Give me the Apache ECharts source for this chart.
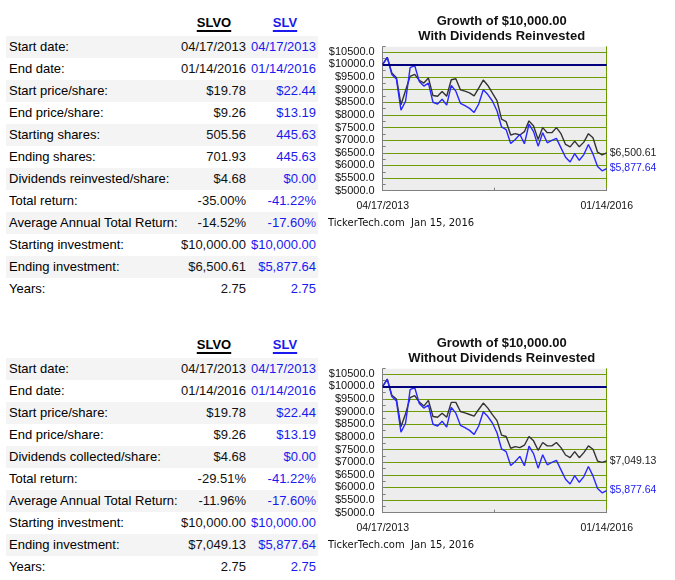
<!DOCTYPE html>
<html><head><meta charset="utf-8">
<script src="https://cdn.jsdelivr.net/npm/echarts@6/dist/echarts.min.js"></script>
<style>
body{margin:0;width:675px;height:580px;background:#fff;position:relative;font-family:"Liberation Sans",Arial,sans-serif;overflow:hidden}
.band{position:absolute;left:6px;width:312px;height:22px;background:#f4f4f4}
.row{position:absolute;left:0;width:325px;height:22px;line-height:22px;font-size:13px}
.lab{position:absolute;left:9px;color:#000;white-space:nowrap}
.c1{position:absolute;left:150px;width:96px;text-align:right;color:#111;white-space:nowrap}
.c2{position:absolute;left:230px;width:86px;text-align:right;color:#1a1aee;white-space:nowrap}
.hd{position:absolute;width:80px;text-align:center;font-weight:bold;font-size:13px;text-decoration:underline;text-decoration-thickness:2px;text-underline-offset:3px;height:22px;line-height:22px}
.chart{position:absolute;left:325px;width:350px;height:230px}
</style>
</head><body>
<div id="t1"></div><div id="t2"></div>
<div id="c1" class="chart" style="top:0px"></div>
<div id="c2" class="chart" style="top:322px"></div>
<script>
// ---------- data ----------
const tickers = ['SLVO', 'SLV'];
const axisDates = ['04/17/2013', '01/14/2016'];

const labels1 = ['Start date:', 'End date:', 'Start price/share:', 'End price/share:', 'Starting shares:', 'Ending shares:', 'Dividends reinvested/share:', 'Total return:', 'Average Annual Total Return:', 'Starting investment:', 'Ending investment:', 'Years:'];
const slvo1 = ['04/17/2013', '01/14/2016', '$19.78', '$9.26', '505.56', '701.93', '$4.68', '-35.00%', '-14.52%', '$10,000.00', '$6,500.61', '2.75'];
const slv1 = ['04/17/2013', '01/14/2016', '$22.44', '$13.19', '445.63', '445.63', '$0.00', '-41.22%', '-17.60%', '$10,000.00', '$5,877.64', '2.75'];

const labels2 = ['Start date:', 'End date:', 'Start price/share:', 'End price/share:', 'Dividends collected/share:', 'Total return:', 'Average Annual Total Return:', 'Starting investment:', 'Ending investment:', 'Years:'];
const slvo2 = ['04/17/2013', '01/14/2016', '$19.78', '$9.26', '$4.68', '-29.51%', '-11.96%', '$10,000.00', '$7,049.13', '2.75'];
const slv2 = ['04/17/2013', '01/14/2016', '$22.44', '$13.19', '$0.00', '-41.22%', '-17.60%', '$10,000.00', '$5,877.64', '2.75'];

// growth of $10,000
const slvoReinvested = [10000, 10280, 9660, 9473, 8400, 8966, 9527, 9607, 9366, 9260,
  9460, 8766, 8740, 8926, 8740, 9393, 9433, 8993, 8940, 8873,
  8753, 9060, 9380, 9166, 8860, 8566, 7831, 7738, 7204, 7257,
  7204, 7337, 7764, 7564, 7030, 7497, 7297, 7297, 7497, 7257,
  6830, 6737, 6963, 6737, 6923, 7257, 7097, 6523, 6420, 6500.61];
const slvoNoReinvest = [10000, 10290, 9647, 9500, 8405, 8913, 9553, 9633, 9380, 9220,
  9447, 8806, 8780, 8940, 8780, 9366, 9366, 9006, 8953, 8886,
  8820, 9086, 9340, 9140, 8880, 8646, 8072, 8018, 7551, 7617,
  7577, 7671, 8018, 7844, 7471, 7778, 7644, 7644, 7778, 7577,
  7284, 7177, 7417, 7177, 7377, 7644, 7510, 7043, 6990, 7049.13];
const slvValues = [10000, 10280, 9600, 9420, 8190, 8540, 9874, 9954, 9326, 9140,
  9260, 8500, 8432, 8620, 8390, 9166, 8940, 8459, 8365, 8258,
  8098, 8432, 8993, 8806, 8550, 8165, 7524, 7417, 6870, 7030,
  7230, 6857, 7631, 7337, 6763, 7297, 6897, 6990, 7070, 6697,
  6323, 6136, 6470, 6203, 6430, 6830, 6456, 5962, 5789, 5877.64];
const endLabels1 = ['$6,500.61', '$5,877.64'];
const endLabels2 = ['$7,049.13', '$5,877.64'];
const yTicks = {min: 5000, max: 10700, step: 500};
const baseline = 10000;

// ---------- tables ----------
function buildTable(el, offset, labels, a, b) {
  let html = '';
  html += '<div class="hd" style="left:174px;top:' + (offset + 12) + 'px;color:#000">' + tickers[0] + '</div>';
  html += '<div class="hd" style="left:245px;top:' + (offset + 12) + 'px;color:#1a1aee">' + tickers[1] + '</div>';
  labels.forEach((lab, i) => {
    const top = offset + 36 + 22 * i;
    if (i % 2 === 0) html += '<div class="band" style="top:' + top + 'px"></div>';
    html += '<div class="row" style="top:' + top + 'px"><span class="lab">' + lab + '</span><span class="c1">' + a[i] + '</span><span class="c2">' + b[i] + '</span></div>';
  });
  el.innerHTML = html;
}
buildTable(document.getElementById('t1'), 0, labels1, slvo1, slv1);
buildTable(document.getElementById('t2'), 322, labels2, slvo2, slv2);

// ---------- charts ----------
const GREEN = '#6d9c00';
function buildOption(line2, blackVals, blueVals, ends) {
  const n = blackVals.length;
  const pairs = arr => arr.map((v, i) => [i, v]);
  return {
    animation: false,
    grid: {left: 57.7, right: 68.3, top: 46.7, bottom: 39.3, show: true, backgroundColor: '#ededed', borderWidth: 0},
    graphic: [
      {type: 'text', x: 176.7, y: 21, style: {text: 'Growth of $10,000.00', fill: '#111', font: 'bold 13px "Liberation Sans", Arial', textAlign: 'center', textVerticalAlign: 'middle'}},
      {type: 'text', x: 176.7, y: 36.7, style: {text: line2, fill: '#111', font: 'bold 13px "Liberation Sans", Arial', textAlign: 'center', textVerticalAlign: 'middle'}},
      {type: 'text', x: 3, y: 223.3, style: {text: 'TickerTech.com  Jan 15, 2016', fill: '#111', font: '10px "DejaVu Sans"', textAlign: 'left', textVerticalAlign: 'middle'}}
    ],
    xAxis: {
      type: 'value', min: 0, max: n - 1, interval: (n - 1) / 2,
      axisLine: {show: true, onZero: false, lineStyle: {color: '#808080'}},
      axisTick: {show: true, inside: true, length: 3, lineStyle: {color: '#808080'}},
      splitLine: {show: false},
      axisLabel: {margin: 10, fontSize: 10.5, color: '#111', fontFamily: 'Liberation Sans',
        formatter: v => v === 0 ? axisDates[0] : (v === n - 1 ? axisDates[1] : '')}
    },
    yAxis: [{
      type: 'value', min: yTicks.min, max: yTicks.max, interval: yTicks.step,
      axisLine: {show: true, lineStyle: {color: '#808080'}},
      axisTick: {show: true, inside: true, length: 3, lineStyle: {color: '#808080'}},
      minorTick: {show: true, splitNumber: 2, length: 3, lineStyle: {color: '#808080'}},
      splitLine: {show: true, showMinLine: false, showMaxLine: false, lineStyle: {color: GREEN, width: 1}},
      axisLabel: {showMaxLabel: false, fontSize: 11, color: '#111', margin: 8, fontFamily: 'Liberation Sans',
        formatter: v => '$' + v.toFixed(1)}
    }, {
      type: 'value', position: 'right', min: yTicks.min, max: yTicks.max, interval: yTicks.step,
      axisLine: {show: true, lineStyle: {color: GREEN}}, axisTick: {show: false},
      axisLabel: {show: false}, splitLine: {show: false}
    }],
    series: [{
      type: 'line', data: pairs(blackVals), symbol: 'none',
      lineStyle: {color: '#333333', width: 1.4},
      endLabel: {show: true, formatter: () => ends[0], color: '#222', fontSize: 10.5, distance: 3, fontFamily: 'Liberation Sans'},
      markLine: {silent: true, symbol: 'none', label: {show: false},
        lineStyle: {color: '#00007f', width: 2, type: 'solid'}, data: [{yAxis: baseline}]}
    }, {
      type: 'line', data: pairs(blueVals), symbol: 'none',
      lineStyle: {color: '#2828ff', width: 1.4},
      endLabel: {show: true, formatter: () => ends[1], color: '#1a1aee', fontSize: 10.5, distance: 3, fontFamily: 'Liberation Sans'}
    }]
  };
}
echarts.init(document.getElementById('c1')).setOption(buildOption('With Dividends Reinvested', slvoReinvested, slvValues, endLabels1));
echarts.init(document.getElementById('c2')).setOption(buildOption('Without Dividends Reinvested', slvoNoReinvest, slvValues, endLabels2));
</script>
</body></html>
